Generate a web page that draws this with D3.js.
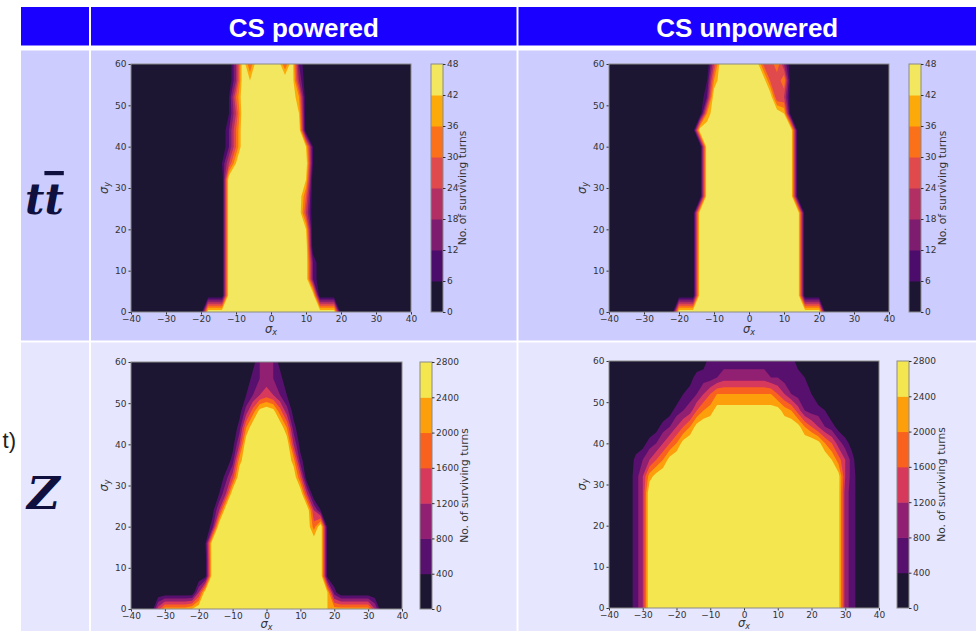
<!DOCTYPE html>
<html>
<head>
<meta charset="utf-8">
<script src="https://cdn.jsdelivr.net/npm/d3@7"></script>
<style>
  body { margin: 0; background: #fff; overflow: hidden; }
  svg { display: block; font-family: "DejaVu Sans", sans-serif; }
</style>
</head>
<body>
<svg id="chart" width="976" height="631"></svg>
<script>
// column titles and row labels of the slide table
const columnTitles = ['CS powered', 'CS unpowered'];

// axis ticks
const sigmaXTicks = [-40, -30, -20, -10, 0, 10, 20, 30, 40];
const sigmaYTicks = [0, 10, 20, 30, 40, 50, 60];

// scan grid: sigma_x columns, sigma_y rows (top row first)
const gridX = d3.range(-40, 41, 2);
const gridY = d3.range(60, -1, -4);

// colour levels of the two colorbars
const ttLevels = [0, 6, 12, 18, 24, 30, 36, 42, 48];
const zLevels = [0, 400, 800, 1200, 1600, 2000, 2400, 2800];
const ttColors = ['#1c1632', '#4b0c6c', '#7e1d6f', '#b22f63', '#e04a4c', '#fb7119', '#fcaa0a', '#f2e75f'];
const zColors = ['#1c1632', '#58106e', '#911f72', '#d6395b', '#f9611f', '#fd9f0a', '#f4e64e'];

// surviving turns per grid point: one base-36 char per sigma_x column, times the unit
const ttUnit = 6;
const zUnit = 200;

const ttPowered = [
  '0000000000 0000038588 8858200000 0000000000 0',
  '0000000000 0000038788 8888300000 0000000000 0',
  '0000000000 0000158888 8888600000 0000000000 0',
  '0000000000 0000148888 8888700000 0000000000 0',
  '0000000000 0000258888 8888800000 0000000000 0',
  '0000000000 0000258888 8888871000 0000000000 0',
  '0000000000 0001478888 8888881000 0000000000 0',
  '0000000000 0000888888 8888870000 0000000000 0',
  '0000000000 0000888888 8888850000 0000000000 0',
  '0000000000 0000888888 8888840000 0000000000 0',
  '0000000000 0000888888 8888870000 0000000000 0',
  '0000000000 0000888888 8888880000 0000000000 0',
  '0000000000 0000888888 8888882000 0000000000 0',
  '0000000000 0000888888 8888882000 0000000000 0',
  '0000000000 0000888888 8888888000 0000000000 0',
  '0000000000 0888888888 8888888888 0000000000 0'
];

const ttUnpowered = [
  '0000000000 0000048888 8854630000 0000000000 0',
  '0000000000 0000168888 8885460000 0000000000 0',
  '0000000000 0000288888 8888440000 0000000000 0',
  '0000000000 0000688888 8888870000 0000000000 0',
  '0000000000 0008888888 8888888000 0000000000 0',
  '0000000000 0000888888 8888888000 0000000000 0',
  '0000000000 0000888888 8888888000 0000000000 0',
  '0000000000 0000888888 8888888000 0000000000 0',
  '0000000000 0000888888 8888888000 0000000000 0',
  '0000000000 0008888888 8888888800 0000000000 0',
  '0000000000 0008888888 8888888800 0000000000 0',
  '0000000000 0008888888 8888888800 0000000000 0',
  '0000000000 0008888888 8888888800 0000000000 0',
  '0000000000 0008888888 8888888800 0000000000 0',
  '0000000000 0008888888 8888888800 0000000000 0',
  '0000000000 8888888888 8888888888 8000000000 0'
];

const zPowered = [
  '0000000000 0000000014 4410000000 0000000000 0',
  '0000000000 0000000034 5430000000 0000000000 0',
  '0000000000 0000000246 7642000000 0000000000 0',
  '0000000000 000000159d ed95100000 0000000000 0',
  '0000000000 0000003aee eeea300000 0000000000 0',
  '0000000000 0000016eee eeee610000 0000000000 0',
  '0000000000 000003beee eeeeb30000 0000000000 0',
  '0000000000 000037eeee eeeee80000 0000000000 0',
  '0000000000 00026eeeee eeeeee6000 0000000000 0',
  '0000000000 0016eeeeee eeeeeee620 0000000000 0',
  '0000000000 003eeeeeee eeeeeee9e1 0000000000 0',
  '0000000000 02eeeeeeee eeeeeeeee1 0000000000 0',
  '0000000000 01eeeeeeee eeeeeeeee1 0000000000 0',
  '0000000000 01eeeeeeee eeeeeeeee1 0000000000 0',
  '0000000000 6eeeeeeeee eeeeeeeeec 3000000000 0',
  '00007bbbbc eeeeeeeeee eeeeeeeeec bbbbbb6000 0'
];

const zUnpowered = [
  '0000000000 0000133333 3333333310 0000000000 0',
  '0000000000 0013334555 5555443332 1000000000 0',
  '0000000000 023468aaaa aaaaa86433 2000000000 0',
  '0000000001 3458abdddd ddddddba74 3320000000 0',
  '0000000134 68adeeeeee eeeeeeeeda 8643100000 0',
  '0000013468 adeeeeeeee eeeeeeeeee eda8531000 0',
  '00003468ad eeeeeeeeee eeeeeeeeee eeec963000 0',
  '000136bdee eeeeeeeeee eeeeeeeeee eeeed63100 0',
  '000136eeee eeeeeeeeee eeeeeeeeee eeeed53100 0',
  '000136eeee eeeeeeeeee eeeeeeeeee eeeed53100 0',
  '000136eeee eeeeeeeeee eeeeeeeeee eeeed53100 0',
  '000136eeee eeeeeeeeee eeeeeeeeee eeeed53100 0',
  '000136eeee eeeeeeeeee eeeeeeeeee eeeed53100 0',
  '000136eeee eeeeeeeeee eeeeeeeeee eeeed53100 0',
  '000136eeee eeeeeeeeee eeeeeeeeee eeeed53100 0',
  '000136eeee eeeeeeeeee eeeeeeeeee eeeed53100 0'
];

const svg = d3.select('#chart');

// ---- slide table background ----
const colEdges = [[21, 89], [91, 516.5], [518.5, 976]];
const rowEdges = [[7, 45.5, '#1a00ff'], [50.5, 340.5, '#ccccff'], [342.5, 631, '#e6e6ff']];

rowEdges.forEach(r => {
  colEdges.forEach(c => {
    svg.append('rect')
      .attr('x', c[0]).attr('y', r[0])
      .attr('width', c[1] - c[0]).attr('height', r[1] - r[0])
      .attr('fill', r[2]);
  });
});

svg.selectAll('.col-title').data(columnTitles).join('text')
  .attr('class', 'col-title')
  .attr('x', (d, i) => (colEdges[i + 1][0] + colEdges[i + 1][1]) / 2)
  .attr('y', 36.5)
  .attr('text-anchor', 'middle')
  .attr('font-family', '"Liberation Sans", Arial, sans-serif')
  .attr('font-weight', 'bold')
  .attr('font-size', 26)
  .attr('fill', '#fff')
  .text(d => d);

// row labels
const tt = svg.append('text')
  .attr('x', 25).attr('y', 214)
  .attr('font-family', '"DejaVu Serif", serif')
  .attr('font-weight', 'bold').attr('font-style', 'italic')
  .attr('font-size', 42).attr('fill', '#10103f');
tt.append('tspan').text('t');
tt.append('tspan').attr('text-decoration', 'overline').text('t');

svg.append('text')
  .attr('x', 27).attr('y', 509)
  .attr('font-family', '"DejaVu Serif", serif')
  .attr('font-weight', 'bold').attr('font-style', 'italic')
  .attr('font-size', 45).attr('fill', '#10103f')
  .text('Z');

svg.append('text')
  .attr('x', 16).attr('y', 448)
  .attr('text-anchor', 'end')
  .attr('font-family', '"Liberation Sans", Arial, sans-serif')
  .attr('font-size', 22).attr('fill', '#222')
  .text('t)');

// ---- the four contour panels ----
const panels = [
  { grid: ttPowered, unit: ttUnit, levels: ttLevels, colors: ttColors,
    left: 131, right: 411, top: 64, bottom: 312, cbLeft: 431, labelX: 462, xLabelGap: 21 },
  { grid: ttUnpowered, unit: ttUnit, levels: ttLevels, colors: ttColors,
    left: 609, right: 889, top: 64, bottom: 312, cbLeft: 909, labelX: 942, xLabelGap: 21 },
  { grid: zPowered, unit: zUnit, levels: zLevels, colors: zColors,
    left: 131, right: 402, top: 362, bottom: 609, cbLeft: 420, labelX: 464, xLabelGap: 18.5 },
  { grid: zUnpowered, unit: zUnit, levels: zLevels, colors: zColors,
    left: 609, right: 879, top: 361, bottom: 608, cbLeft: 897, labelX: 941, xLabelGap: 19 }
];

const cbWidth = 12;
const textColor = '#333';
const frameColor = '#8a8a8a';

panels.forEach((p, k) => drawPanel(p, k));

function drawPanel(p, k) {

  let x = d3.scaleLinear()
    .domain([sigmaXTicks[0], sigmaXTicks[sigmaXTicks.length - 1]])
    .range([p.left, p.right]);
  let y = d3.scaleLinear()
    .domain([sigmaYTicks[0], sigmaYTicks[sigmaYTicks.length - 1]])
    .range([p.bottom, p.top]);

  // grid values
  let values = [];
  p.grid.forEach(row => {
    row.replace(/ /g, '').split('').forEach(ch => values.push(parseInt(ch, 36) * p.unit));
  });

  let dx = gridX[1] - gridX[0];
  let dy = gridY[0] - gridY[1];

  // contour coords are in grid units, value i sits at i + 0.5
  let toPlot = d3.geoTransform({
    point(cx, cy) {
      this.stream.point(x(gridX[0] + (cx - 0.5) * dx), y(gridY[0] - (cy - 0.5) * dy));
    }
  });
  let path = d3.geoPath(toPlot);

  let bands = d3.contours()
    .size([gridX.length, gridY.length])
    .thresholds(p.levels.slice(0, -1))(values);

  svg.append('clipPath').attr('id', 'clip' + k)
    .append('rect')
    .attr('x', p.left).attr('y', p.top)
    .attr('width', p.right - p.left).attr('height', p.bottom - p.top);

  svg.append('g')
    .attr('clip-path', 'url(#clip' + k + ')')
    .selectAll('path')
    .data(bands)
    .join('path')
    .attr('d', path)
    .attr('fill-rule', 'evenodd')
    .attr('fill', (d, i) => p.colors[i]);

  // axes
  const xAxisGroup = svg.append('g')
    .attr('transform', 'translate(0,' + p.bottom + ')')
    .call(d3.axisBottom(x).tickValues(sigmaXTicks).tickSize(2.5).tickPadding(1.5));
  const yAxisGroup = svg.append('g')
    .attr('transform', 'translate(' + p.left + ',0)')
    .call(d3.axisLeft(y).tickValues(sigmaYTicks).tickSize(2.5).tickPadding(2));

  [xAxisGroup, yAxisGroup].forEach(a => {
    a.attr('font-size', 9).attr('font-family', '"DejaVu Sans", sans-serif');
    a.select('.domain').remove();
    a.selectAll('line').attr('stroke', textColor);
    a.selectAll('text').attr('fill', textColor);
  });

  svg.append('rect')
    .attr('x', p.left).attr('y', p.top)
    .attr('width', p.right - p.left).attr('height', p.bottom - p.top)
    .attr('fill', 'none').attr('stroke', frameColor).attr('stroke-width', 1);

  // axis labels
  const xl = svg.append('text')
    .attr('x', (p.left + p.right) / 2).attr('y', p.bottom + p.xLabelGap)
    .attr('text-anchor', 'middle').attr('font-size', 11.5).attr('fill', textColor);
  xl.append('tspan').attr('font-style', 'italic').text('σ');
  xl.append('tspan').attr('font-style', 'italic').attr('font-size', 8).attr('dy', 2).text('x');

  const yl = svg.append('text')
    .attr('transform', 'translate(' + (p.left - 23) + ',' + ((p.top + p.bottom) / 2) + ') rotate(-90)')
    .attr('text-anchor', 'middle').attr('font-size', 11.5).attr('fill', textColor);
  yl.append('tspan').attr('font-style', 'italic').text('σ');
  yl.append('tspan').attr('font-style', 'italic').attr('font-size', 8).attr('dy', 2).text('y');

  // colorbar
  let cb = d3.scaleLinear()
    .domain([p.levels[0], p.levels[p.levels.length - 1]])
    .range([p.bottom, p.top]);

  svg.append('g')
    .selectAll('rect')
    .data(p.colors)
    .join('rect')
    .attr('x', p.cbLeft).attr('width', cbWidth)
    .attr('y', (c, i) => cb(p.levels[i + 1]))
    .attr('height', (c, i) => cb(p.levels[i]) - cb(p.levels[i + 1]) + (i > 0 ? 0.5 : 0))
    .attr('fill', c => c);

  svg.append('rect')
    .attr('x', p.cbLeft).attr('y', p.top)
    .attr('width', cbWidth).attr('height', p.bottom - p.top)
    .attr('fill', 'none').attr('stroke', frameColor).attr('stroke-width', 1);

  const cbAxis = svg.append('g')
    .attr('transform', 'translate(' + (p.cbLeft + cbWidth) + ',0)')
    .call(d3.axisRight(cb).tickValues(p.levels).tickFormat(d3.format('d')).tickSize(2.5).tickPadding(1.5));
  cbAxis.attr('font-size', 9).attr('font-family', '"DejaVu Sans", sans-serif');
  cbAxis.select('.domain').remove();
  cbAxis.selectAll('line').attr('stroke', textColor);
  cbAxis.selectAll('text').attr('fill', textColor);

  svg.append('text')
    .attr('transform', 'translate(' + p.labelX + ',' + ((p.top + p.bottom) / 2) + ') rotate(-90)')
    .attr('text-anchor', 'middle')
    .attr('dominant-baseline', 'central')
    .attr('font-size', 10.7)
    .attr('fill', textColor)
    .text('No. of surviving turns');
}
</script>
</body>
</html>
